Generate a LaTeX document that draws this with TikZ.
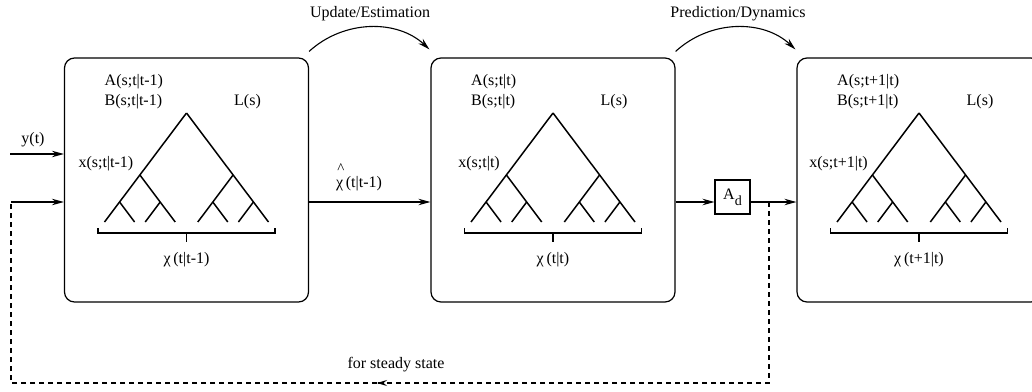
\documentclass[tikz,border=0pt]{standalone}
\usepackage{fontspec}
\setmainfont{Liberation Serif}
\newfontfamily\dfont{Liberation Serif}
\usetikzlibrary{arrows.meta,calc}
\begin{document}
\begin{tikzpicture}[x=1pt,y=-1pt,
  every node/.style={font=\dfont\fontsize{16}{19}\selectfont, inner sep=0pt},
  box/.style={draw, line width=1.2pt, rounded corners=10pt, minimum width=244pt, minimum height=244pt},
  adbox/.style={draw, line width=1.1pt, minimum width=35pt, minimum height=34pt},
  treeline/.style={line width=1.5pt},
  conn/.style={line width=1.1pt, -{Stealth[length=12pt,width=6.5pt,inset=4pt]}},
  plain/.style={line width=1.1pt},
  fb/.style={line width=1.1pt, dash pattern=on 5pt off 4pt},
  bintree/.pic={
    \draw[treeline] (0,0) -- (-82,109);
    \draw[treeline] (-46.6,62) -- (-11.3,109);
    \draw[treeline] (-66.9,89) -- (-51.9,109);
    \draw[treeline] (-26.3,89) -- (-41.3,109);
    \draw[treeline] (0,0) -- (82,109);
    \draw[treeline] (46.6,62) -- (11.3,109);
    \draw[treeline] (66.9,89) -- (51.9,109);
    \draw[treeline] (26.3,89) -- (41.3,109);
    \draw[plain] (-88.5,115) -- (-88.5,120) -- (88.5,120) -- (88.5,115);
    \draw[plain] (0,120) -- (0,129);
  }
]
\clip (0,0) rectangle (1032,391);
\useasboundingbox (0,0) rectangle (1032,391);

% boxes
\node[box] (b1) at (186.5,180) {};
\node[box] (b2) at (553,180) {};
\node[box] (b3) at (919,180) {};

% trees
\pic at (186.5,113) {bintree};
\pic at (553,113) {bintree};
\pic at (919,113) {bintree};

% labels box 1
\node[anchor=west] (a1) at (104.5,82) {A(s;t|t-1)};
\node[anchor=west] (bb1) at (104.5,102) {B(s;t|t-1)};
\node (l1) at (247.5,102) {L(s)};
\node[anchor=east] (x1) at (133.5,164) {x(s;t|t-1)};
\node (c1) at (186.5,260) {χ\,(t|t-1)};

% labels box 2
\node[anchor=west] (a2) at (471,82) {A(s;t|t)};
\node[anchor=west] (bb2) at (471,102) {B(s;t|t)};
\node (l2) at (614,102) {L(s)};
\node[anchor=east] (x2) at (500,164) {x(s;t|t)};
\node (c2) at (553,260) {χ\,(t|t)};

% labels box 3
\node[anchor=west] (a3) at (837,82) {A(s;t+1|t)};
\node[anchor=west] (bb3) at (837,102) {B(s;t+1|t)};
\node (l3) at (980,102) {L(s)};
\node[anchor=east] (x3) at (868,164) {x(s;t+1|t)};
\node (c3) at (919,260) {χ\,(t+1|t)};

% A_d box
\node[adbox] (ad) at (732.5,197) {A\raisebox{-0.35em}{\fontsize{14}{14}\selectfont d}};

% inputs
\coordinate (yin) at (10,154);
\coordinate (fin) at (11,202);
\node (ylab) at (33,140) {y(t)};
\draw[conn] (yin) -- (yin -| b1.west);
\draw[conn] (fin) -- (fin -| b1.west);

% main line
\coordinate (lv) at (0,202);
\node (chihat) at (359,184) {χ\,(t|t-1)};
\node[anchor=south, font=\dfont\fontsize{15}{15}\selectfont] (hat) at ($(chihat.north west)+(5,-3)$) {\^{}};
\draw[conn] (lv -| b1.east) -- (lv -| b2.west);
\draw[conn] (lv -| b2.east) -- (lv -| ad.west);
\draw[conn] (lv -| ad.east) -- (lv -| b3.west);

% feedback
\coordinate (j) at (769,202);
\coordinate (m) at (377,383);
\draw[fb] (j) |- (m);
\draw[line width=1.1pt, -{Stealth[length=10pt,width=6pt,inset=3.5pt]}] ($(m)+(6,0)$) -- (m);
\draw[fb] (m) -| (fin);
\node (ss) at (396,365) {for steady state};

% top arcs
\coordinate (u1) at ($(b1.north east)+(0,-6)$);
\coordinate (u2) at ($(b2.north west)+(-1,-8)$);
\draw[line width=1.1pt, -{Stealth[length=12pt,width=6.5pt,inset=4pt]}] (u1) .. controls ($(u1)+(35,-32)$) and ($(u2)+(-32,-30)$) .. (u2);
\node (ue) at (370,14) {Update/Estimation};

\coordinate (p1) at ($(b2.north east)+(0,-6)$);
\coordinate (p2) at ($(b3.north west)+(-1,-8)$);
\draw[line width=1.1pt, -{Stealth[length=12pt,width=6.5pt,inset=4pt]}] (p1) .. controls ($(p1)+(35,-32)$) and ($(p2)+(-32,-30)$) .. (p2);
\node (pd) at (738,14) {Prediction/Dynamics};
\end{tikzpicture}
\end{document}
